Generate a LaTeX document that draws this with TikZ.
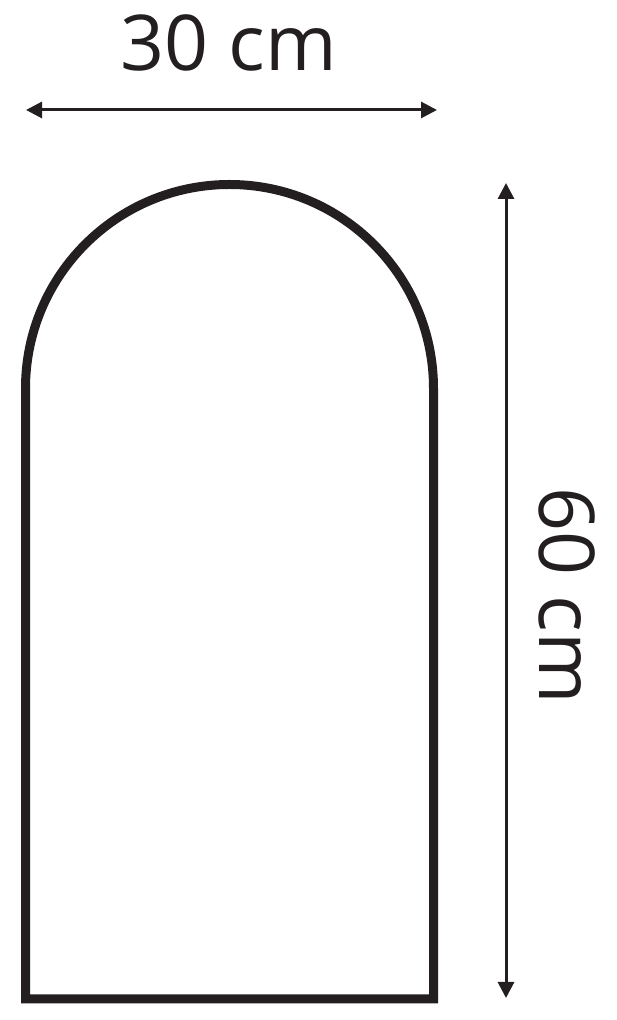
\documentclass[tikz,border=0pt]{standalone}
\usepackage{fontspec}
\setmainfont{Open Sans}
\usetikzlibrary{positioning, arrows.meta}
\definecolor{inkdark}{HTML}{231F20}
\tikzset{
    %Define style for the arch outline
    outline/.style={
           draw=inkdark,
           line width=9pt,
           line join=miter},
 %
    % Define dimension arrow style
    dimarrow/.style={
           {Triangle[length=16pt, width=16pt]}-{Triangle[length=16pt, width=16pt]},
           draw=inkdark,
           line width=3pt},
 %
    dimlabel/.style={
           text=inkdark,
           inner sep=0pt,
           anchor=base,
           font=\fontsize{77}{80}\selectfont}
}
\begin{document}
\begin{tikzpicture}[x=1pt, y=1pt]
  \useasboundingbox (0,0) rectangle (617,1020);

  % arch
  \draw[outline] (25.5,21) -- (25.5,631.5)
     arc[start angle=180, end angle=0, radius=204] -- (433.5,21) -- cycle;

  % width
  \coordinate (wleft) at (26,910);
  \coordinate (wright) at (437,910);
  \draw[dimarrow] (wleft) -- (wright);
  \node[dimlabel] (wlabel) at (229,949) {30 cm};

  % height
  \coordinate (htop) at (506,837);
  \coordinate (hbottom) at (506,22);
  \draw[dimarrow] (htop) -- (hbottom);
  \node[dimlabel, rotate=-90] (hlabel) at (539,424) {60 cm};
\end{tikzpicture}
\end{document}
